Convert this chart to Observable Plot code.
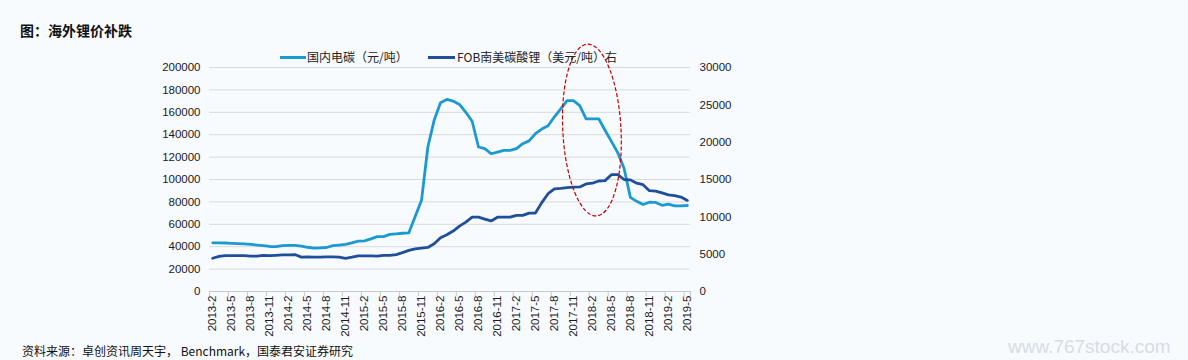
<!DOCTYPE html>
<html><head><meta charset="utf-8">
<script src="https://cdn.jsdelivr.net/npm/d3@7"></script>
<script src="https://cdn.jsdelivr.net/npm/@observablehq/plot@0.6"></script>
<style>
body{margin:0;background:#f8fbfe;font-family:"Liberation Sans",Arial,"Noto Sans CJK SC",sans-serif;}
#wrap{position:relative;width:1188px;height:360px;overflow:hidden;}
#title{position:absolute;left:20px;top:20px;font-size:14px;font-weight:bold;color:#111;font-family:"Noto Sans CJK SC",sans-serif;line-height:20px;}
#chart{position:absolute;left:0;top:0;}
.leg{position:absolute;top:48px;font-size:12px;color:#222;line-height:18px;font-family:"Noto Sans CJK SC",sans-serif;}
.sw{position:absolute;height:3px;top:56px;}
#caption{position:absolute;left:22px;top:342px;font-size:12px;color:#111;font-family:"Noto Sans CJK SC",sans-serif;line-height:18px;}
#wm{position:absolute;left:1008px;top:336px;font-size:19px;line-height:21px;color:#c9d0d8;opacity:0.7;font-family:"Liberation Sans",Arial,sans-serif;}
</style></head><body>
<div id="wrap">
<div id="chart"></div>
<div id="title">图：海外锂价补跌</div>
<div class="sw" style="left:280px;width:26px;background:#1a9ad0"></div>
<div class="leg" style="left:307px">国内电碳（元/吨）</div>
<div class="sw" style="left:428px;width:27px;background:#1f4e9a"></div>
<div class="leg" style="left:457px">FOB南美碳酸锂（美元/吨）右</div>
<div id="caption">资料来源：卓创资讯周天宇， Benchmark，国泰君安证券研究</div>
<div id="wm">www.767stock.com</div>
</div>
<script>
const months = ["2013-2","2013-3","2013-4","2013-5","2013-6","2013-7","2013-8","2013-9","2013-10","2013-11","2013-12",
"2014-1","2014-2","2014-3","2014-4","2014-5","2014-6","2014-7","2014-8","2014-9","2014-10","2014-11","2014-12",
"2015-1","2015-2","2015-3","2015-4","2015-5","2015-6","2015-7","2015-8","2015-9","2015-10","2015-11","2015-12",
"2016-1","2016-2","2016-3","2016-4","2016-5","2016-6","2016-7","2016-8","2016-9","2016-10","2016-11","2016-12",
"2017-1","2017-2","2017-3","2017-4","2017-5","2017-6","2017-7","2017-8","2017-9","2017-10","2017-11","2017-12",
"2018-1","2018-2","2018-3","2018-4","2018-5","2018-6","2018-7","2018-8","2018-9","2018-10","2018-11","2018-12",
"2019-1","2019-2","2019-3","2019-4","2019-5"];
const domestic = [43500,43500,43300,43000,42800,42500,42000,41500,41000,40200,40000,
41000,41200,41200,40500,39500,38700,39000,39300,41000,41500,42000,43500,
45000,45200,47000,49000,49000,51000,51500,52000,52400,67000,81500,129000,
153000,168500,171500,170000,167000,160000,152000,129000,127500,123000,124500,126000,
126000,127500,132000,134500,141000,145000,148000,156000,163000,170500,170500,166000,
154200,154200,154200,144000,134000,124000,110000,84000,80500,77700,79700,79500,
77000,78000,76500,76500,76800];
const fob = [4450,4700,4800,4800,4800,4800,4750,4750,4850,4800,4850,
4900,4900,4950,4600,4650,4600,4600,4650,4650,4600,4450,4600,
4780,4780,4780,4750,4850,4850,4950,5200,5500,5700,5800,5900,
6400,7200,7600,8100,8750,9300,9950,9950,9700,9450,9950,9950,
9950,10200,10200,10500,10500,11900,13100,13750,13800,13900,13970,14000,
14400,14500,14800,14850,15650,15650,15000,14950,14500,14300,13500,13450,
13200,12950,12850,12650,12200];
const xTickLabels = ["2013-2","2013-5","2013-8","2013-11","2014-2","2014-5","2014-8","2014-11",
"2015-2","2015-5","2015-8","2015-11","2016-2","2016-5","2016-8","2016-11","2017-2","2017-5","2017-8","2017-11",
"2018-2","2018-5","2018-8","2018-11","2019-2","2019-5"];
const leftTicks = [0,20000,40000,60000,80000,100000,120000,140000,160000,180000,200000];
const rightTicks = [0,5000,10000,15000,20000,25000,30000];
// annotation ellipse (data units): center month, center value, half-width in months, half-height in value
const ellipseCenterMonth = "2018-2";
const ellipseCenterValue = 143700;
const ellipseHalfMonths = 4.6;
const ellipseHalfValue = 76800;

const k = 200000 / 30000;
const data = months.map((m, i) => ({i, m, dom: domestic[i], fob: fob[i]}));
const tickIdx = xTickLabels.map(l => months.indexOf(l));
const boundaryIdx = tickIdx.map(i => i - 0.5).concat([months.length - 0.5]);

const chart = Plot.plot({
  width: 1188, height: 360,
  marginTop: 67, marginBottom: 69, marginLeft: 209, marginRight: 498,
  style: {background: "transparent", fontFamily: "'Liberation Sans', Arial, sans-serif", fontSize: "11.5px", color: "#1a1a1a", overflow: "visible"},
  x: {type: "linear", domain: [-0.5, months.length - 0.5]},
  y: {domain: [0, 200000]},
  marks: [
    Plot.gridY(leftTicks, {stroke: "#d9d9d9", strokeOpacity: 1, strokeWidth: 1}),
    Plot.ruleY([0], {stroke: "#c8c8c8"}),
    Plot.axisY({ticks: leftTicks, tickSize: 0, tickPadding: 9, label: null, tickFormat: d => String(d)}),
    Plot.axisY({anchor: "right", ticks: rightTicks.map(v => v * k), tickSize: 0, tickPadding: 9, label: null, tickFormat: d => String(Math.round(d / k))}),
    Plot.axisX({ticks: boundaryIdx, tickSize: 5, tickFormat: () => "", label: null, stroke: "#c8c8c8"}),
    Plot.axisX({ticks: tickIdx, tickFormat: i => months[i], tickRotate: -90, tickSize: 0, tickPadding: 4, label: null}),
    Plot.line(data, {x: "i", y: "dom", stroke: "#1a9ad0", strokeWidth: 2.8}),
    Plot.line(data, {x: "i", y: d => d.fob * k, stroke: "#1f4e9a", strokeWidth: 2.8})
  ]
});
document.getElementById("chart").appendChild(chart);

const sx = chart.scale("x"), sy = chart.scale("y");
const ci = months.indexOf(ellipseCenterMonth);
const cx = sx.apply(ci), cy = sy.apply(ellipseCenterValue);
const rx = sx.apply(ci + ellipseHalfMonths) - cx;
const ry = cy - sy.apply(ellipseCenterValue + ellipseHalfValue);
d3.select(chart).append("ellipse")
  .attr("cx", cx).attr("cy", cy).attr("rx", rx).attr("ry", ry)
  .attr("transform", `rotate(-3 ${cx} ${cy})`)
  .attr("fill", "none").attr("stroke", "#c00000").attr("stroke-width", 1.2)
  .attr("stroke-dasharray", "4,2");
</script>
</body></html>
